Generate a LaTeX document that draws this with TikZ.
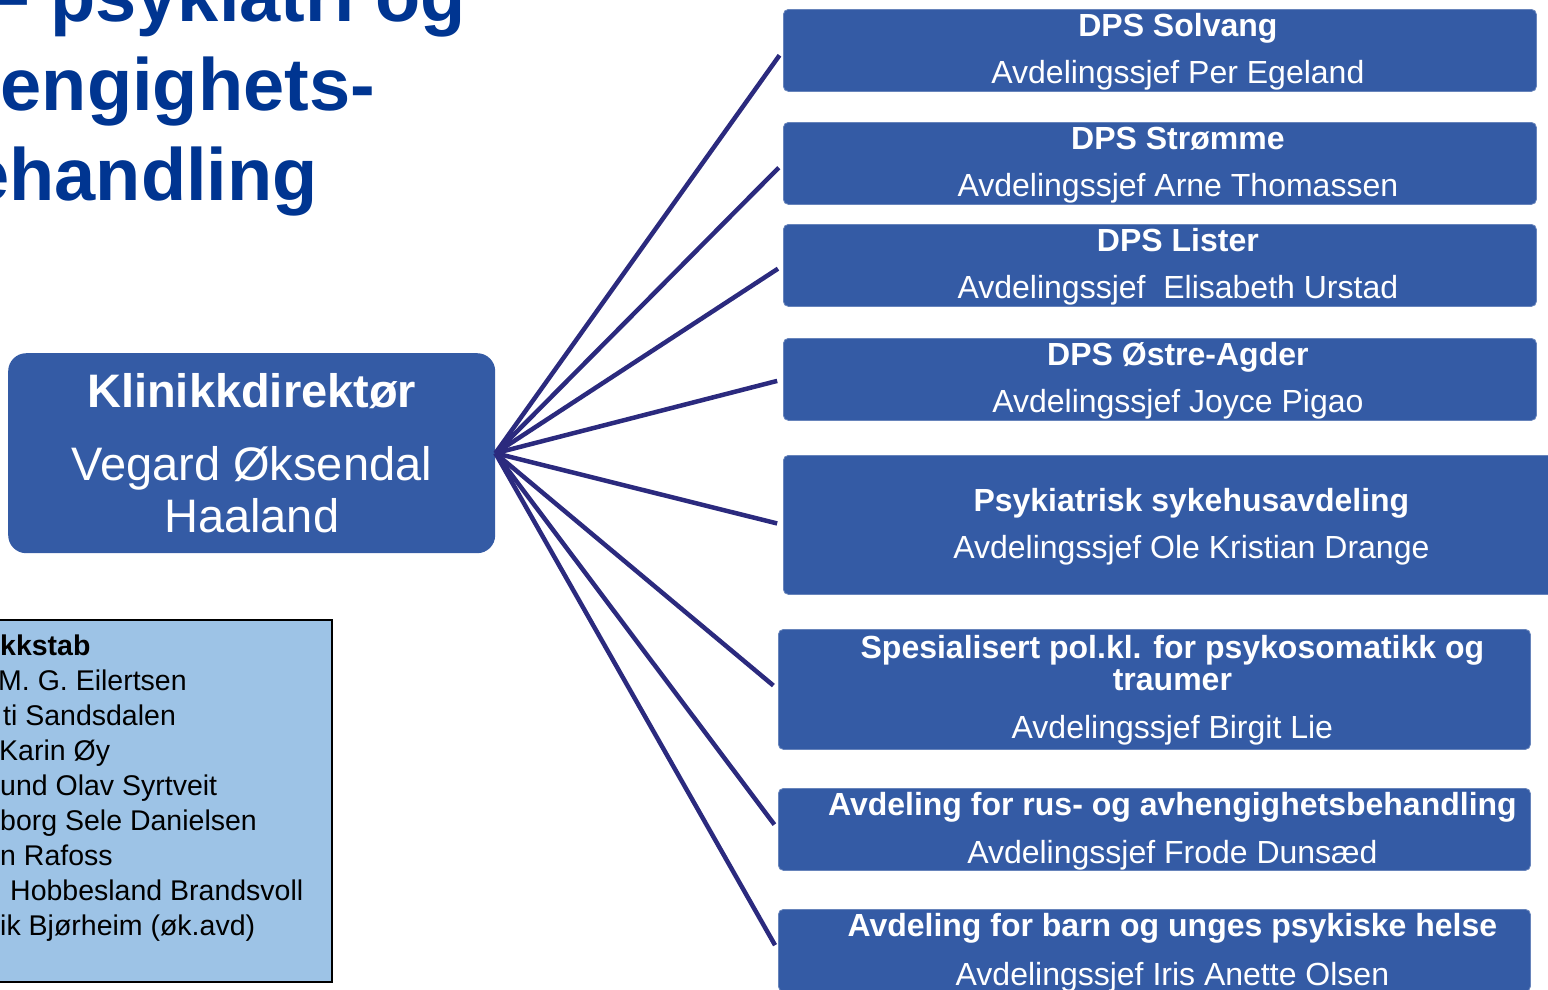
\documentclass[tikz,border=0pt]{standalone}
\usepackage{fontspec}
\setmainfont{Liberation Sans}
\usetikzlibrary{positioning}
\definecolor{boxblue}{RGB}{52,91,165}
\definecolor{titleblue}{RGB}{0,53,145}
\definecolor{linenavy}{RGB}{43,42,126}
\definecolor{staffblue}{RGB}{157,195,230}
\tikzset{
	unitbox/.style={draw=boxblue!75!white, line width=0.8pt, fill=boxblue, rounded corners=5pt, inner sep=0pt, anchor=north west},
	unithead/.style={text=white, font=\bfseries\fontsize{32}{38}\selectfont, anchor=base, inner sep=0pt},
	unitsub/.style={text=white, font=\fontsize{32}{38}\selectfont, anchor=base, inner sep=0pt},
	dirtext/.style={text=white, font=\fontsize{47}{52}\selectfont, anchor=base, inner sep=0pt},
	stafftext/.style={text=black, font=\fontsize{28.5}{35}\selectfont, anchor=base west, inner sep=0pt},
	pagetitle/.style={text=titleblue, font=\bfseries\fontsize{74}{89}\selectfont, anchor=base east, inner sep=0pt},
	link/.style={draw=linenavy, line width=4.5pt, shorten >=6pt},
}
\begin{document}
\begin{tikzpicture}[x=1pt, y=-1pt]
	\useasboundingbox (0,0) rectangle (1548,989);
	\clip (0,0) rectangle (1548,989);
	\node[pagetitle] (t1) at (466,21) {– psykiatri og};
	\node[pagetitle] (t2) at (375,110) {engighets-};
	\node[pagetitle] (t3) at (318,200) {ehandling};
	\node[fill=boxblue, rounded corners=18pt, inner sep=0pt, anchor=north west, minimum width=487pt, minimum height=200pt] (dir) at (8,353) {};
	\node[dirtext, font=\bfseries\fontsize{47}{52}\selectfont] (dirhead) at ([yshift=-54pt]dir.north) {Klinikkdirektør};
	\node[dirtext] (dirname1) at ([yshift=-127pt]dir.north) {Vegard Øksendal};
	\node[dirtext] (dirname2) at ([yshift=-179pt]dir.north) {Haaland};
	\node[draw=black, line width=2pt, fill=staffblue, inner sep=0pt, anchor=north west, minimum width=341pt, minimum height=362pt] (staff) at (-10,619) {};
	\node[stafftext, font=\bfseries\fontsize{28.5}{35}\selectfont] (s0) at (0,655) {kkstab};
	\node[stafftext] (s1) at (-2,690) {M. G. Eilertsen};
	\node[stafftext] (s2) at (3,725) {ti Sandsdalen};
	\node[stafftext] (s3) at (-1,760) {Karin Øy};
	\node[stafftext] (s4) at (0,795) {und Olav Syrtveit};
	\node[stafftext] (s5) at (0,830) {borg Sele Danielsen};
	\node[stafftext] (s6) at (0,865) {n Rafoss};
	\node[stafftext] (s7) at (10,900) {Hobbesland Brandsvoll};
	\node[stafftext] (s8) at (0,935) {ik Bjørheim (øk.avd)};
	\node[unitbox, minimum width=753pt, minimum height=82pt] (solvang) at (783,9) {};
	\node[unithead] at ([xshift=18pt, yshift=-27pt]solvang.north) {DPS Solvang};
	\node[unitsub] at ([xshift=18pt, yshift=-74pt]solvang.north) {Avdelingssjef Per Egeland};
	\node[unitbox, minimum width=753pt, minimum height=82pt] (stromme) at (783,122) {};
	\node[unithead] at ([xshift=18pt, yshift=-27pt]stromme.north) {DPS Strømme};
	\node[unitsub] at ([xshift=18pt, yshift=-74pt]stromme.north) {Avdelingssjef Arne Thomassen};
	\node[unitbox, minimum width=753pt, minimum height=82pt] (lister) at (783,224) {};
	\node[unithead] at ([xshift=18pt, yshift=-27pt]lister.north) {DPS Lister};
	\node[unitsub] at ([xshift=18pt, yshift=-74pt]lister.north) {Avdelingssjef~ Elisabeth Urstad};
	\node[unitbox, minimum width=753pt, minimum height=82pt] (ostre) at (783,338) {};
	\node[unithead] at ([xshift=18pt, yshift=-27pt]ostre.north) {DPS Østre-Agder};
	\node[unitsub] at ([xshift=18pt, yshift=-74pt]ostre.north) {Avdelingssjef Joyce Pigao};
	\node[unitbox, minimum width=780pt, minimum height=139pt] (sykehus) at (783,455) {};
	\node[unithead] at ([xshift=18pt, yshift=-56pt]sykehus.north) {Psykiatrisk sykehusavdeling};
	\node[unitsub] at ([xshift=18pt, yshift=-103pt]sykehus.north) {Avdelingssjef Ole Kristian Drange};
	\node[unitbox, minimum width=752pt, minimum height=120pt] (psykosom) at (778,629) {};
	\node[unithead] at ([xshift=18pt, yshift=-29pt]psykosom.north) {Spesialisert pol.kl. for psykosomatikk og};
	\node[unithead] at ([xshift=18pt, yshift=-61pt]psykosom.north) {traumer};
	\node[unitsub] at ([xshift=18pt, yshift=-109pt]psykosom.north) {Avdelingssjef Birgit Lie};
	\node[unitbox, minimum width=752pt, minimum height=82pt] (rus) at (778,788) {};
	\node[unithead] at ([xshift=18pt, yshift=-27pt]rus.north) {Avdeling for rus- og avhengighetsbehandling};
	\node[unitsub] at ([xshift=18pt, yshift=-75pt]rus.north) {Avdelingssjef Frode Dunsæd};
	\node[unitbox, minimum width=752pt, minimum height=82pt] (bup) at (778,909) {};
	\node[unithead] at ([xshift=18pt, yshift=-27pt]bup.north) {Avdeling for barn og unges psykiske helse};
	\node[unitsub] at ([xshift=18pt, yshift=-76pt]bup.north) {Avdelingssjef Iris Anette Olsen};
	\foreach \u in {solvang,stromme,lister,ostre,sykehus,psykosom,rus,bup}
		\draw[link] (dir.east) -- (\u.west);
\end{tikzpicture}
\end{document}
